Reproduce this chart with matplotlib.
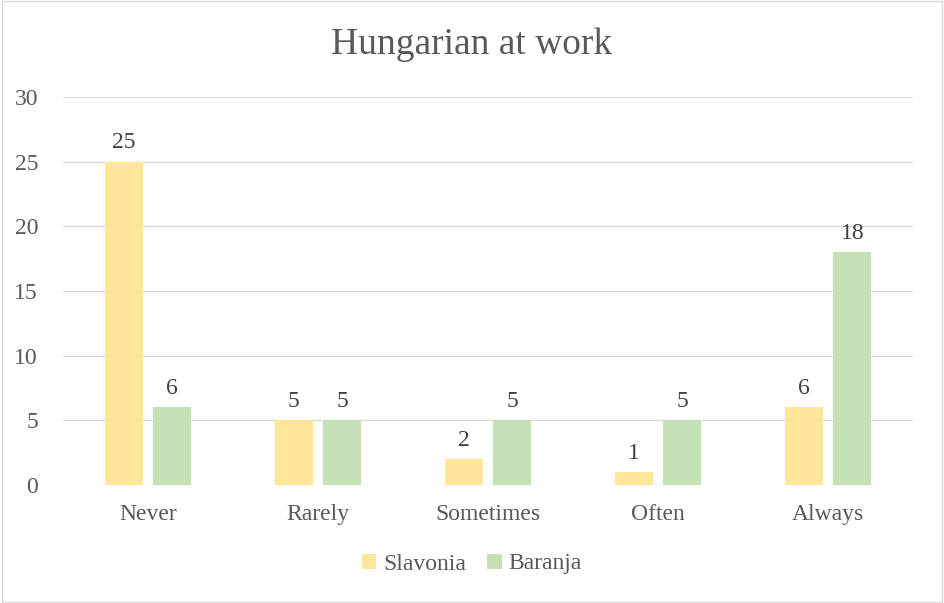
import numpy as np
import matplotlib.pyplot as plt
from matplotlib.patches import Rectangle

categories = ['Never', 'Rarely', 'Sometimes', 'Often', 'Always']
slavonia = [25, 5, 2, 1, 6]
baranja = [6, 5, 5, 5, 18]
yticks = [0, 5, 10, 15, 20, 25, 30]

plt.rcParams['font.family'] = ['Liberation Serif', 'DejaVu Serif']
txt = '#595959'

fig = plt.figure(figsize=(9.44, 6.03), dpi=100)
fig.patches.append(Rectangle((0.002, 0.002), 0.996, 0.996, transform=fig.transFigure,
                             fill=False, edgecolor='#D9D9D9', linewidth=1))
ax = fig.add_axes([63 / 944, 118 / 603, 850 / 944, 388 / 603])

x = np.arange(len(categories))
w = 0.225
off = 0.143
b1 = ax.bar(x - off, slavonia, w, color='#FFE699', label='Slavonia', zorder=3)
b2 = ax.bar(x + off, baranja, w, color='#C5E0B4', label='Baranja', zorder=3)
for bars in (b1, b2):
    ax.bar_label(bars, padding=6, fontsize=17, color='#404040')

ax.set_xlim(-0.5, len(categories) - 0.5)
ax.set_ylim(0, 30)
ax.set_yticks(yticks)
ax.set_xticks(x)
ax.set_xticklabels(categories)
ax.tick_params(axis='both', length=0, labelsize=17, labelcolor=txt)
ax.tick_params(axis='y', pad=18)
ax.tick_params(axis='x', pad=14)
ax.grid(axis='y', color='#D9D9D9', linewidth=1, zorder=0)
for s in ax.spines.values():
    s.set_visible(False)

fig.text(0.5, 1 - 45 / 603, 'Hungarian at work', ha='center', va='center',
         fontsize=27, color=txt)
fig.legend(loc='center', bbox_to_anchor=(0.5, 1 - 564 / 603), ncol=2, frameon=False,
           fontsize=17, labelcolor=txt, handlelength=0.6, handleheight=0.6,
           handletextpad=0.3, columnspacing=0.9)

fig.savefig('out.png', dpi=100)
